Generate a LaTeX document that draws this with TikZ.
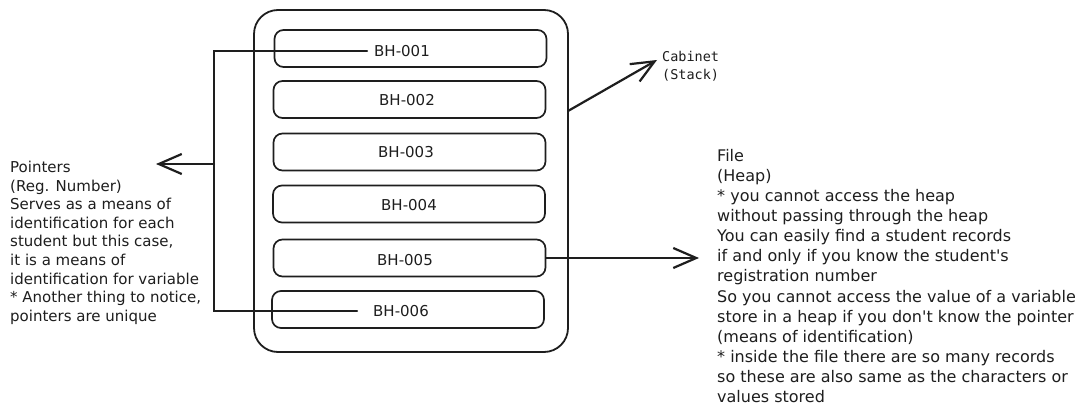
\documentclass[tikz,border=0pt]{standalone}
\usepackage{fontspec}
\setmainfont{DejaVu Sans}
\newfontfamily\monof{DejaVu Sans Mono}
\usetikzlibrary{arrows.meta}
\definecolor{ink}{HTML}{1E1E1E}
\begin{document}
\begin{tikzpicture}[x=1pt,y=-1pt,
  outerbox/.style={draw=ink, line width=1.8pt, rounded corners=24pt, minimum width=314pt, minimum height=342pt, inner sep=0pt},
  slot/.style={draw=ink, line width=1.7pt, rounded corners=9pt, minimum width=272pt, minimum height=37pt, inner sep=0pt},
  lbl/.style={font=\fontsize{15}{18}\selectfont, inner sep=0pt, text=ink},
  leftnote/.style={font=\fontsize{15}{18.6}\selectfont, align=left, inner sep=0pt, anchor=north west, text=ink},
  rightnote/.style={font=\fontsize{16}{20.1}\selectfont, align=left, inner sep=0pt, anchor=north west, text=ink},
  mononote/.style={font=\monof\fontsize{13.5}{18}\selectfont, align=left, inner sep=0pt, anchor=north west, text=ink},
  conn/.style={draw=ink, line width=2.2pt, line cap=round},
  arr/.style={conn, -{Straight Barb[length=23pt,width=20pt,line width=2.2pt]}}
]
\useasboundingbox (0,0) rectangle (1086,417);
\fill[white] (0,0) rectangle (1086,417);

% cabinet
\node[outerbox] (cab) at (411,181) {};

% slots
\node[slot] (b1) at (410.5,48.5) {};
\node[slot] (b2) at (409.5,99.5) {};
\node[slot] (b3) at (409.5,152) {};
\node[slot] (b4) at (409,204) {};
\node[slot] (b5) at (409.5,258) {};
\node[slot] (b6) at (408,309.5) {};

\node[lbl] (t1) at (402,51) {BH-001};
\node[lbl] (t2) at (407,100) {BH-002};
\node[lbl] (t3) at (406,152) {BH-003};
\node[lbl] (t4) at (409,205) {BH-004};
\node[lbl] (t5) at (405,260) {BH-005};
\node[lbl] (t6) at (401,311) {BH-006};

% texts
\node[leftnote] (ptr) at (10,161) {Pointers\\(Reg. Number)\\Serves as a means of\\identification for each\\student but this case,\\it is a means of\\identification for variable\\* Another thing to notice,\\pointers are unique};

\node[rightnote] (file) at (717,149) {File\\(Heap)\\* you cannot access the heap\\without passing through the heap\\You can easily find a student records\\if and only if you know the student\textquotesingle s\\registration number\\So you cannot access the value of a variable\\store in a heap if you don\textquotesingle t know the pointer\\(means of identification)\\* inside the file there are so many records\\so these are also same as the characters or\\values stored};

\node[mononote] (cabt) at (662,51) {Cabinet\\(Stack)};

% coordinates
\coordinate (pv) at (214,164);
\coordinate (ptrtip) at (156,164);
\coordinate (heaptip) at (699,258);
\coordinate (cabs) at (568,111);
\coordinate (cabtip) at (657,60);

% connectors
\draw[conn] ([xshift=-7pt]t1.west) -- (t1.west -| pv) -- (t6.west -| pv) -- ([xshift=-16pt]t6.west);
\draw[arr] (pv) -- (ptrtip);
\draw[arr] (b5.east) -- (heaptip);
\draw[arr] (cabs) -- (cabtip);
\end{tikzpicture}
\end{document}
